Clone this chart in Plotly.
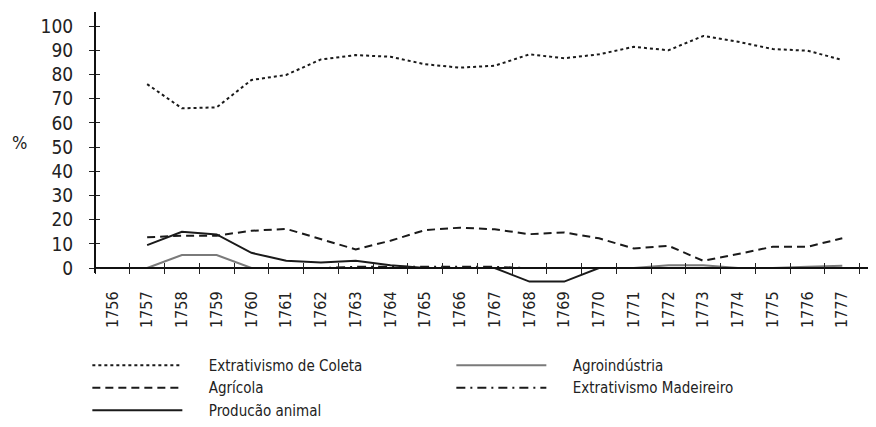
import plotly.graph_objects as go

years = [str(y) for y in range(1756, 1778)]
data_years = [str(y) for y in range(1757, 1778)]

coleta = [76, 66, 66.4, 77.7, 79.8, 86.2, 88, 87.3, 84.2, 82.8, 83.6, 88.3, 86.7,
          88.3, 91.4, 90, 95.9, 93.5, 90.5, 89.8, 86]
agricola = [12.7, 13.4, 13.4, 15.4, 16.2, 11.9, 7.7, 11.3, 15.7, 16.7, 16, 14, 14.7,
            12.3, 8.1, 9.2, 3.0, 5.8, 8.8, 8.8, 12.3]
producao = [9.5, 15, 13.9, 6.3, 3.0, 2.3, 3.0, 1.2, 0, 0, 0, -5.6, -5.6,
            0, 0, 0, 0, 0, 0, 0, 0]
agroind = [0, 5.4, 5.4, 0, 0, 0, 0, 0, 0, 0, 0, 0, 0,
           0, 0, 1.2, 1.2, 0, 0, 0.5, 1.0]
madeireiro = [0, 0, 0, 0, 0, 0, 0.5, 0.5, 0.5, 0.5, 0.5, 0, 0,
              0, 0, 0, 0, 0, 0, 0, 0]

y_ticks = list(range(0, 101, 10))
FONT = "Liberation Sans Narrow, DejaVu Sans Condensed, Arial Narrow, sans-serif"
Y_MIN, Y_MAX = -7, 105.8
X_RANGE = [-0.5, 21.97]
PAD = "\u00a0" * 5

fig = go.Figure()
series = [
    ("Extrativismo de Coleta", coleta, dict(color="#1a1a1a", width=2, dash="dot")),
    ("Agroindústria", agroind, dict(color="#7a7a7a", width=2, dash="solid")),
    ("Agrícola", agricola, dict(color="#1a1a1a", width=2, dash="8px,5px")),
    ("Extrativismo Madeireiro", madeireiro, dict(color="#1a1a1a", width=2, dash="9px,5px,2px,5px")),
    ("Producão animal", producao, dict(color="#1a1a1a", width=2, dash="solid")),
]
for name, vals, line in series:
    fig.add_trace(go.Scatter(x=data_years, y=vals, mode="lines", name=PAD + name, line=line))

# dummy trace so the overlay axes (cross tick marks) are drawn
fig.add_trace(go.Scatter(x=[], y=[], xaxis="x2", yaxis="y2", showlegend=False, hoverinfo="skip"))

zero_pos = (0 - Y_MIN) / (Y_MAX - Y_MIN)

# the page body has an 8px default margin, so the figure is sized to fit the window
fig.update_layout(
    width=868, height=419,
    margin=dict(l=87, r=0, t=4, b=142, autoexpand=False),
    plot_bgcolor="white", paper_bgcolor="white",
    font=dict(family=FONT, size=17, color="#222"),
    xaxis=dict(
        type="category", categoryorder="array", categoryarray=years,
        tickvals=years, ticktext=years, range=X_RANGE,
        tickson="boundaries", ticks="outside", ticklen=5, tickwidth=1, tickcolor="#222",
        tickangle=-90, tickfont=dict(size=16), ticklabelstandoff=16,
        showline=True, linecolor="#111", linewidth=2,
        anchor="free", position=zero_pos, automargin=False,
        showgrid=False, zeroline=False,
    ),
    xaxis2=dict(
        type="category", categoryorder="array", categoryarray=years, range=X_RANGE,
        tickvals=years, tickson="boundaries", ticks="inside", ticklen=5, tickwidth=1,
        tickcolor="#222", showticklabels=False, showline=False, showgrid=False,
        overlaying="x", anchor="free", position=zero_pos, automargin=False,
    ),
    yaxis=dict(
        range=[Y_MIN, Y_MAX], tickvals=y_ticks, ticks="outside", ticklen=5,
        tickwidth=1, tickcolor="#222", tickfont=dict(size=19), ticklabelstandoff=12,
        showline=False, showgrid=False, zeroline=False, automargin=False,
    ),
    yaxis2=dict(
        range=[Y_MIN, Y_MAX], tickvals=y_ticks, ticks="inside", ticklen=5,
        tickwidth=1, tickcolor="#222", showticklabels=False, automargin=False,
        showline=False, showgrid=False, zeroline=False, overlaying="y", anchor="x",
    ),
    legend=dict(
        orientation="h", x=-0.0098, y=-0.234, xanchor="left", yanchor="top",
        itemwidth=90, entrywidth=259, font=dict(size=15),
        bgcolor="rgba(0,0,0,0)",
    ),
    shapes=[dict(type="line", xref="paper", x0=0, x1=0, yref="y", y0=-2, y1=Y_MAX,
                 line=dict(color="#111", width=2), layer="above")],
    annotations=[dict(text="%", xref="paper", yref="y", x=-0.097, y=52,
                      showarrow=False, font=dict(size=18), xanchor="center")],
)

fig.write_html("out.html")
